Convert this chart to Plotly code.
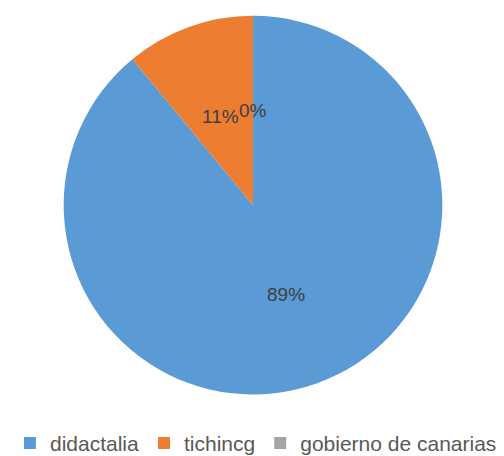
import math
import plotly.graph_objects as go

categories = ["didactalia", "tichincg", "gobierno de canarias"]
values = [89, 11, 0]
colors = ["#5b9bd5", "#ed7d31", "#a5a5a5"]

W, H = 504, 456
cx, cy, R = 245, 202, 194  # pie centre / radius in layout pixels

dom_x = [(cx - R) / W, (cx + R) / W]
dom_y = [(H - cy - R) / H, (H - cy + R) / H]

fig = go.Figure(go.Pie(
    labels=categories,
    values=values,
    marker=dict(colors=colors, line=dict(width=0)),
    sort=False,
    direction="clockwise",
    rotation=0,
    textinfo="none",
    hoverinfo="label+percent",
    domain=dict(x=dom_x, y=dom_y),
    showlegend=True,
))

# Data labels placed along each slice bisector, like the original chart
total = sum(values)
cum = 0
for v in values:
    mid = (cum + v / 2) / total * 2 * math.pi
    cum += v
    r = 0.51 * R * 186 / 190
    px = cx + r * math.sin(mid)
    py = cy - r * math.cos(mid)
    fig.add_annotation(
        x=px / W, y=(H - py) / H, xref="paper", yref="paper",
        text=f"{round(v / total * 100)}%", showarrow=False,
        xanchor="center", yanchor="middle",
        font=dict(family="Liberation Sans", size=19, color="#404040"),
    )

fig.update_layout(
    width=W, height=H,
    margin=dict(l=0, r=0, t=0, b=0),
    paper_bgcolor="white",
    legend=dict(orientation="h", x=0.492, xanchor="center", y=(H - 446) / H, yanchor="middle",
                font=dict(family="Liberation Sans", size=21, color="#595959"),
                itemwidth=30, tracegroupgap=0),
)

fig.write_html("out.html")
